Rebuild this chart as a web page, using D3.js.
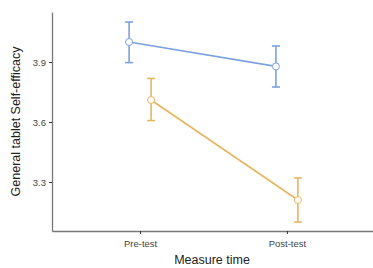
<!DOCTYPE html>
<html>
<head>
    <script src="https://d3js.org/d3.v7.min.js"></script>
    <style>
        body { margin: 0; background: #fff; }
        text { font-family: "Liberation Sans", Arial, sans-serif; }
    </style>
</head>
<body>
<script>
    // data
    const times = ["Pre-test", "Post-test"];
    const groups = ["A", "B"];
    const groupColors = ["#7ba2dc", "#e6b65e"];
    const means = [[4.00, 3.878], [3.71, 3.21]];
    const lower = [[3.897, 3.775], [3.607, 3.10]];
    const upper = [[4.10, 3.98], [3.818, 3.32]];
    const yTicks = [3.3, 3.6, 3.9];

    const W = 373, H = 268;
    const margin = { top: 12, right: -2, bottom: 37, left: 52 };

    const svg = d3.select("body").append("svg")
        .attr("width", W).attr("height", H);

    const x = d3.scalePoint().domain(times)
        .range([margin.left, W - margin.right]).padding(0.6);
    const y = d3.scaleLinear().domain([3.055, 4.15])
        .range([H - margin.bottom, margin.top]);
    const dodge = [-11, 11];

    // axes
    const yAxis = svg.append("g")
        .attr("transform", `translate(${margin.left},0)`)
        .call(d3.axisLeft(y).tickValues(yTicks).tickFormat(d3.format(".1f")).tickSize(3).tickSizeOuter(0));
    const xAxis = svg.append("g")
        .attr("transform", `translate(0,${H - margin.bottom})`)
        .call(d3.axisBottom(x).tickSize(3).tickSizeOuter(0));
    [xAxis, yAxis].forEach(a => {
        a.select(".domain").attr("stroke", "#777").attr("stroke-width", 1.3);
        a.selectAll(".tick line").attr("stroke", "#333");
        a.selectAll(".tick text").attr("fill", "#444").attr("font-size", 9.5);
    });
    yAxis.selectAll(".tick text").attr("x", -6);
    xAxis.selectAll(".tick text").attr("y", 9);

    // lines, error bars, points
    groups.forEach((g, gi) => {
        const pts = times.map((t, ti) => ({
            x: x(t) + dodge[gi], m: means[gi][ti], lo: lower[gi][ti], hi: upper[gi][ti]
        }));
        const col = groupColors[gi];
        svg.append("path")
            .datum(pts)
            .attr("fill", "none").attr("stroke", col).attr("stroke-width", 1.6)
            .attr("d", d3.line().x(d => d.x).y(d => y(d.m)));
        const eb = svg.append("g").selectAll("g").data(pts).join("g")
            .attr("stroke", col).attr("stroke-width", 1.6);
        eb.append("line").attr("x1", d => d.x).attr("x2", d => d.x)
            .attr("y1", d => y(d.lo)).attr("y2", d => y(d.hi));
        eb.append("line").attr("x1", d => d.x - 4).attr("x2", d => d.x + 4)
            .attr("y1", d => y(d.lo)).attr("y2", d => y(d.lo));
        eb.append("line").attr("x1", d => d.x - 4).attr("x2", d => d.x + 4)
            .attr("y1", d => y(d.hi)).attr("y2", d => y(d.hi));
        svg.append("g").selectAll("circle").data(pts).join("circle")
            .attr("cx", d => d.x).attr("cy", d => y(d.m)).attr("r", 3.5)
            .attr("fill", "#fff").attr("stroke", col).attr("stroke-width", 1);
    });

    // axis titles
    svg.append("text")
        .attr("x", 212).attr("y", 264)
        .attr("text-anchor", "middle").attr("font-size", 12.5).attr("fill", "#222")
        .text("Measure time");
    svg.append("text")
        .attr("transform", `translate(20,${(margin.top + H - margin.bottom) / 2}) rotate(-90)`)
        .attr("text-anchor", "middle").attr("font-size", 12.5).attr("fill", "#222")
        .text("General tablet Self-efficacy");
</script>
</body>
</html>
